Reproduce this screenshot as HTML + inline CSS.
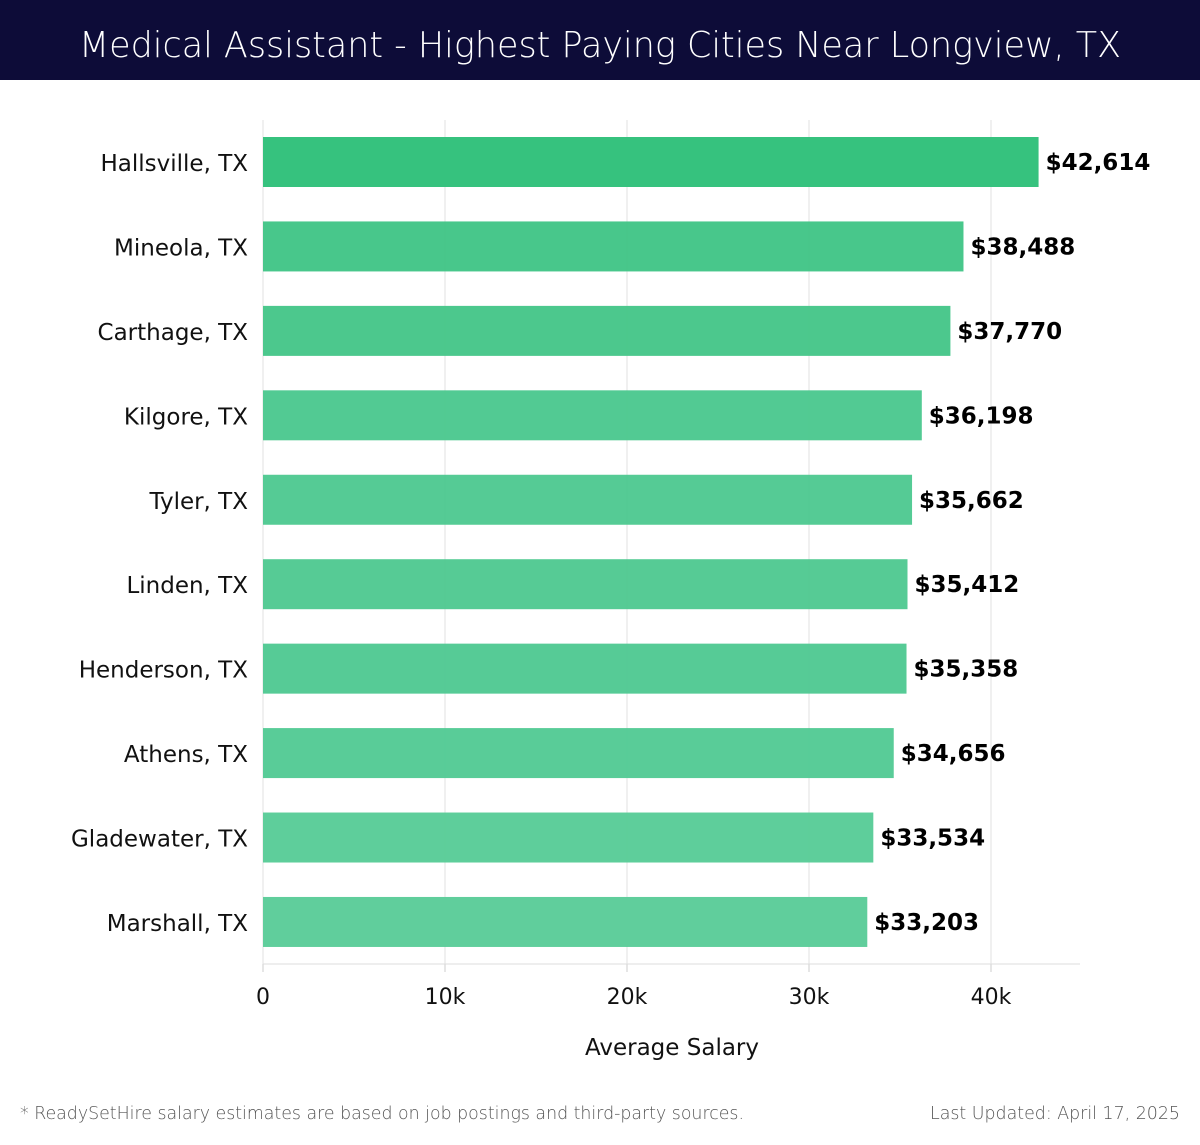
<!DOCTYPE html>
<html><head><meta charset="utf-8">
<style>
html,body{margin:0;padding:0;background:#fff;}
body{width:1200px;height:1140px;overflow:hidden;font-family:"Liberation Sans","DejaVu Sans",sans-serif;}
</style></head>
<body>
<svg id="chart" width="1200" height="1140" xmlns="http://www.w3.org/2000/svg">
  <rect x="0" y="0" width="1200" height="80" fill="#0d0c38"/>
  <text x="600" y="57" text-anchor="middle" fill="#ffffff" font-family="'DejaVu Sans','Liberation Sans',sans-serif" font-weight="200" font-size="36" textLength="1042" lengthAdjust="spacingAndGlyphs">Medical Assistant - Highest Paying Cities Near Longview, TX</text>
  <g id="grid"></g>
  <g id="bars"></g>
  <g id="axis"></g>
  <text x="672" y="1055" text-anchor="middle" font-family="'DejaVu Sans',sans-serif" font-size="23" fill="#111">Average Salary</text>
  <text x="20" y="1119" font-family="'DejaVu Sans',sans-serif" font-weight="300" font-size="18" fill="#555" textLength="724" lengthAdjust="spacingAndGlyphs">* ReadySetHire salary estimates are based on job postings and third-party sources.</text>
  <text x="1180" y="1119" text-anchor="end" font-family="'DejaVu Sans',sans-serif" font-weight="300" font-size="18" fill="#555" textLength="250" lengthAdjust="spacingAndGlyphs">Last Updated: April 17, 2025</text>
</svg>
<script>
const categories = ["Hallsville, TX","Mineola, TX","Carthage, TX","Kilgore, TX","Tyler, TX","Linden, TX","Henderson, TX","Athens, TX","Gladewater, TX","Marshall, TX"];
const salaries = [42614,38488,37770,36198,35662,35412,35358,34656,33534,33203];
const valueLabels = ["$42,614","$38,488","$37,770","$36,198","$35,662","$35,412","$35,358","$34,656","$33,534","$33,203"];
const tickValues = [0,10000,20000,30000,40000];
const tickLabels = ["0","10k","20k","30k","40k"];

const NS = "http://www.w3.org/2000/svg";
const x0 = 263, pxPer = (991-263)/40000;
const xScale = v => x0 + v*pxPer;
const plotTop = 120, plotBottom = 964, step = 84.44, barH = 50;
const yScale = i => 162 + i*step;
const maxVal = Math.max(...salaries), minVal = Math.min(...salaries);
function mk(tag, attrs){const e=document.createElementNS(NS,tag);for(const k in attrs)e.setAttribute(k,attrs[k]);return e;}
const grid=document.getElementById('grid'), bars=document.getElementById('bars'), axis=document.getElementById('axis');

tickValues.forEach((t,i)=>{
  const x=xScale(t);
  const g=mk('line',{x1:x,x2:x,y1:plotTop,y2:plotBottom,stroke:'#e2e2e2','stroke-width':1});
  
  
  grid.appendChild(g);
  const tk=mk('line',{x1:x,x2:x,y1:plotBottom,y2:plotBottom+8,stroke:'#ccc','stroke-width':1});
  
  
  axis.appendChild(tk);
  const tl=mk('text',{x:x,y:1004,'text-anchor':'middle','font-size':22,fill:'#111','font-family':"'DejaVu Sans',sans-serif"});
  tl.textContent=tickLabels[i];
  
  
  axis.appendChild(tl);
});
const al=mk('line',{x1:x0,x2:1080,y1:plotBottom,y2:plotBottom,stroke:'#ddd','stroke-width':1});


axis.appendChild(al);

function lerp(a,b,t){return Math.round(a+(b-a)*t);}
categories.forEach((c,i)=>{
  const y=yScale(i);
  const t=(maxVal-salaries[i])/(maxVal-minVal);
  const col=`rgb(${lerp(43,87,t)},${lerp(191,203,t)},${lerp(119,151,t)})`;
  const r=mk('rect',{x:x0,y:y-barH/2,width:xScale(salaries[i])-x0,height:barH,fill:col,'fill-opacity':0.95});
  
  
  bars.appendChild(r);
  const lab=mk('text',{x:248,y:y+9,'text-anchor':'end','font-size':23,fill:'#111','font-family':"'DejaVu Sans',sans-serif"});
  lab.textContent=c;
  
  
  bars.appendChild(lab);
  const v=mk('text',{x:xScale(salaries[i])+7,y:y+8,'font-size':23,'font-weight':'bold',fill:'#000','font-family':"'DejaVu Sans',sans-serif"});
  v.textContent=valueLabels[i];
  
  
  bars.appendChild(v);
});
</script>
</body></html>
